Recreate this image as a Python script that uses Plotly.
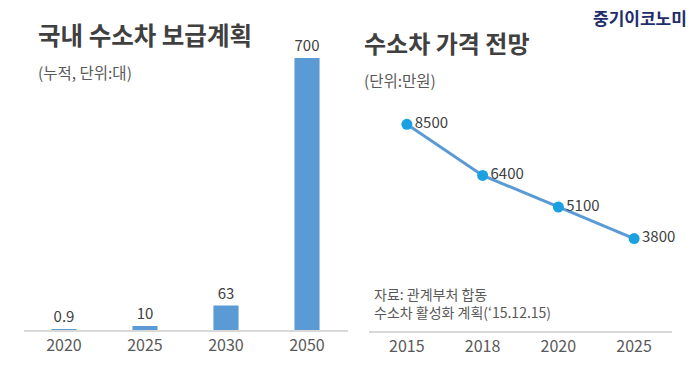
import plotly.graph_objects as go

# Data
bar_years = ["2020", "2025", "2030", "2050"]
bar_values = [0.9, 10, 63, 700]
bar_labels = ["0.9", "10", "63", "700"]

price_years = ["2015", "2018", "2020", "2025"]
price_values = [8500, 6400, 5100, 3800]
price_labels = ["8500", "6400", "5100", "3800"]

FONT = "Noto Sans CJK KR"
W, H = 700, 380

def px_x(x):
    return x / W

def px_y(y):
    return (H - y) / H

fig = go.Figure()

fig.add_trace(go.Bar(
    x=bar_years, y=bar_values, text=bar_labels,
    textposition="outside", cliponaxis=False,
    textfont=dict(family=FONT, size=15, color="#404040"),
    marker=dict(color="#5b9bd5", line=dict(width=0)),
    xaxis="x", yaxis="y", width=0.31,
))

fig.add_trace(go.Scatter(
    x=price_years, y=price_values, text=price_labels,
    mode="lines+markers+text", textposition="middle right",
    cliponaxis=False,
    textfont=dict(family=FONT, size=15, color="#404040"),
    line=dict(color="#5b9bd5", width=3),
    marker=dict(color="#1ba1e2", size=11),
    xaxis="x2", yaxis="y2",
))

axis_common = dict(
    showgrid=False, zeroline=False, showline=True,
    linecolor="#d9d9d9", linewidth=1.5, ticks="",
    tickfont=dict(family=FONT, size=16, color="#595959"),
    fixedrange=True, range=[-0.5, 3.5], autorange=False,
)

fig.update_layout(
    width=W, height=H,
    margin=dict(l=0, r=0, t=0, b=0),
    paper_bgcolor="white", plot_bgcolor="white",
    showlegend=False,
    font=dict(family=FONT),
    xaxis=dict(domain=[px_x(23.5), px_x(347.5)], anchor="y", **axis_common),
    yaxis=dict(domain=[px_y(330), px_y(19)], range=[0, 800], visible=False, fixedrange=True),
    xaxis2=dict(domain=[px_x(369), px_x(672)], anchor="y2", **axis_common),
    yaxis2=dict(domain=[px_y(331), px_y(100)], range=[0, 9500], visible=False, fixedrange=True),
)

annotations = [
    dict(text="<b>국내 수소차 보급계획</b>", x=px_x(36), y=px_y(35), font=dict(size=24.5, color="#404040")),
    dict(text="(누적, 단위:대)", x=px_x(36), y=px_y(72), font=dict(size=15.5, color="#595959")),
    dict(text="<b>수소차 가격 전망</b>", x=px_x(362), y=px_y(42), font=dict(size=24, color="#404040")),
    dict(text="(단위:만원)", x=px_x(362), y=px_y(80), font=dict(size=15.5, color="#595959")),
    dict(text="<b>중기이코노미</b>", x=px_x(591), y=px_y(17), font=dict(size=17, color="#1f2d6b")),
    dict(text="자료: 관계부처 합동<br>수소차 활성화 계획(‘15.12.15)", x=px_x(372), y=px_y(303),
         font=dict(size=14, color="#595959"), align="left"),
]
for a in annotations:
    a.update(xref="paper", yref="paper", xanchor="left", yanchor="middle", showarrow=False)
    a["font"]["family"] = FONT
fig.update_layout(annotations=annotations)

fig.write_html("out.html", config={"displayModeBar": False},
               post_script="document.body.style.margin='0';")
